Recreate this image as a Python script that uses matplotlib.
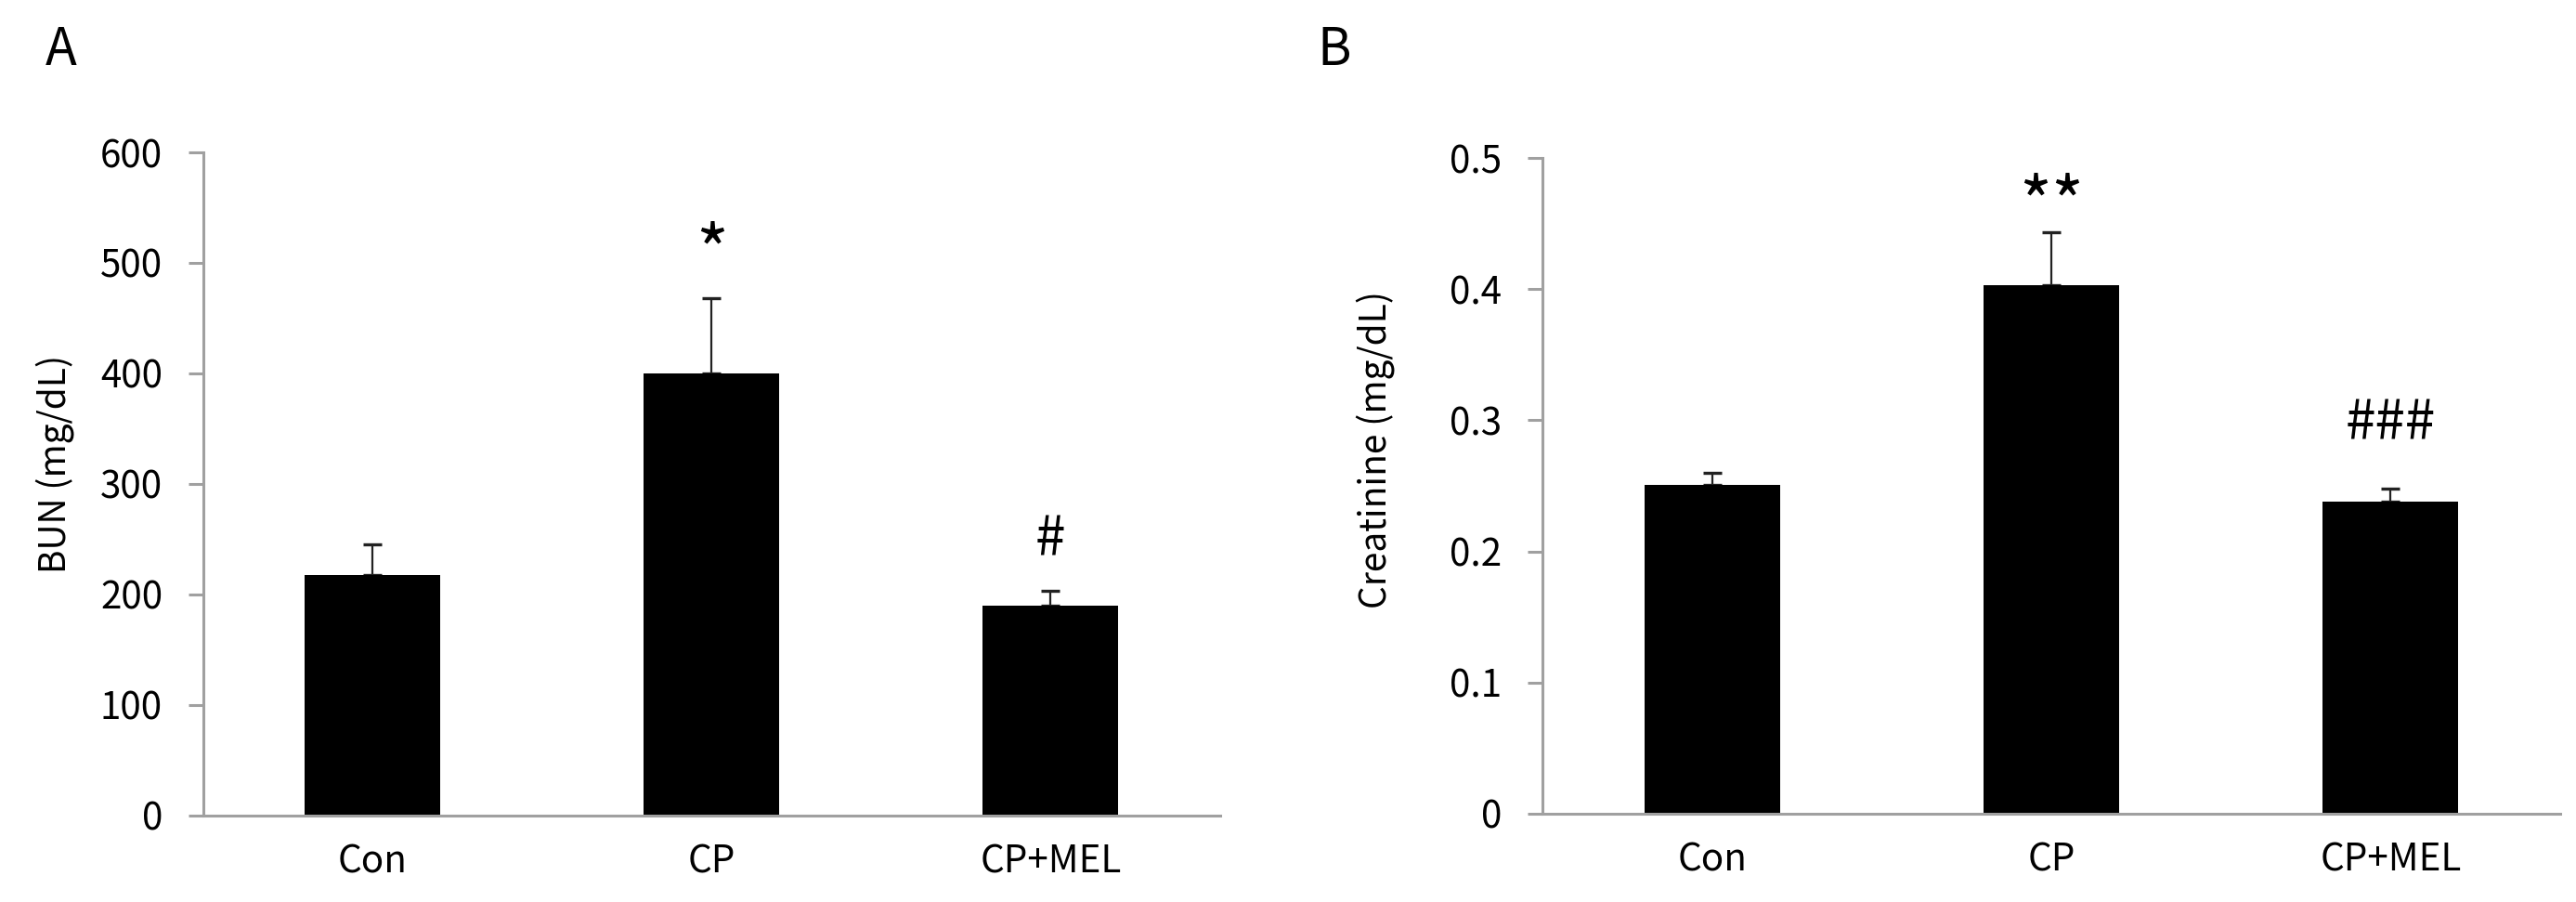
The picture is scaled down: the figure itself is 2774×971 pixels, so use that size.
import numpy as np
import matplotlib.pyplot as plt

plt.rcParams['font.family'] = ['Noto Sans CJK KR', 'DejaVu Sans']

# data
groups = ['Con', 'CP', 'CP+MEL']
bun_mean = [218, 400, 190]
bun_err = [27, 68, 13]
bun_marks = ['', '*', '#']
bun_mark_y = [0, 506, 249]
crea_mean = [0.251, 0.403, 0.238]
crea_err = [0.009, 0.040, 0.010]
crea_marks = ['', '**', '###']
crea_mark_y = [0, 0.462, 0.297]

axis_grey = '#a0a0a0'

fig = plt.figure(figsize=(27.74, 9.71), dpi=100)
axA = fig.add_axes([0.0789, 0.0958, 0.3947, 0.7353])
axB = fig.add_axes([0.5988, 0.0979, 0.3951, 0.7270])


def draw_panel(ax, means, errs, marks, mark_y, ymax, ystep, ylabel, lab_xy, fmt):
    x = np.arange(len(groups))
    ax.bar(x, means, width=0.4, color='black', zorder=2)
    ax.errorbar(x, means, yerr=[np.zeros(len(errs)), errs], fmt='none',
                ecolor='#222222', elinewidth=1.6, capsize=7.5, capthick=2.4, zorder=1)
    for xi, my, s in zip(x, mark_y, marks):
        if s:
            ax.text(xi, my, s, ha='center', va='center',
                    fontsize=42 if '#' in s else 54)
    ax.set_xlim(-0.5, 2.5)
    ax.set_ylim(0, ymax)
    ax.set_yticks(np.arange(0, ymax + ystep / 2, ystep))
    ax.yaxis.set_major_formatter(plt.FuncFormatter(fmt))
    ax.set_xticks(x)
    ax.set_xticklabels(groups)
    ax.spines['top'].set_visible(False)
    ax.spines['right'].set_visible(False)
    for sp in ('left', 'bottom'):
        ax.spines[sp].set_color(axis_grey)
        ax.spines[sp].set_linewidth(2.2)
    ax.tick_params(axis='y', length=11.5, width=2.2, color=axis_grey, labelsize=29, pad=20)
    ax.tick_params(axis='x', length=0, labelsize=29, pad=21)
    ax.set_ylabel(ylabel, fontsize=28, va='center')
    ax.yaxis.set_label_coords(*lab_xy)


draw_panel(axA, bun_mean, bun_err, bun_marks, bun_mark_y, 600, 100, 'BUN (mg/dL)',
           (-0.146, 0.53), lambda v, p: '%d' % v)
draw_panel(axB, crea_mean, crea_err, crea_marks, crea_mark_y, 0.5, 0.1, 'Creatinine (mg/dL)',
           (-0.164, 0.555), lambda v, p: '0' if v == 0 else '%.1f' % v)

fig.text(0.0238, 0.944, 'A', fontsize=40, ha='center', va='center')
fig.text(0.518, 0.944, 'B', fontsize=40, ha='center', va='center')

fig.savefig('out.png', dpi=100)
